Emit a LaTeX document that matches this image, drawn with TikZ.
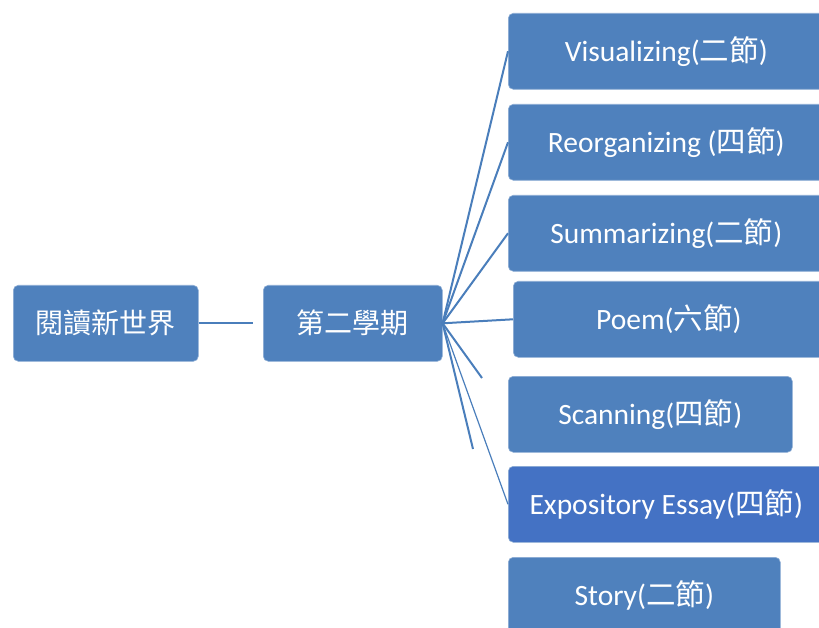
\documentclass[tikz,border=0pt]{standalone}
\usepackage{fontspec}
\setmainfont{Carlito}
\newfontfamily\cjk{Noto Sans CJK TC}
\usetikzlibrary{positioning}
\definecolor{boxblue}{HTML}{4F81BD}
\definecolor{boxdark}{HTML}{4472C4}
\definecolor{linkblue}{HTML}{4A7EBB}
\tikzset{
  topicbox/.style={rectangle, rounded corners=5pt, fill=boxblue, draw=white!35!boxblue, line width=0.6pt,
    text=white, anchor=north west, minimum height=76pt, inner sep=0pt, font=\fontsize{29.5}{33}\selectfont},
  rootbox/.style={topicbox, font=\cjk\fontsize{28}{32}\selectfont},
  link/.style={linkblue, line width=2pt},
}
\begin{document}
\begin{tikzpicture}[x=1pt,y=-1pt]
\useasboundingbox (0,0) rectangle (819,628);
\clip (0,0) rectangle (819,628);
% Root and term
\node[rootbox, minimum width=185pt] (book) at (13,285) {閱讀新世界};
\node[rootbox, minimum width=179pt] (term) at (263,285) {第二學期};

% Units
\node[topicbox, minimum width=316pt] (vis) at (508,13) {Visualizing({\cjk 二節})};
\node[topicbox, minimum width=316pt] (reo) at (508,104) {Reorganizing ({\cjk 四節})};
\node[topicbox, minimum width=316pt] (sum) at (508,195) {Summarizing({\cjk 二節})};
\node[topicbox, minimum width=311pt] (poem) at (513,281) {Poem({\cjk 六節})};
\node[topicbox, minimum width=284pt] (scan) at (508,376) {Scanning({\cjk 四節})};
\node[topicbox, minimum width=316pt, fill=boxdark] (expo) at (508,466) {Expository Essay({\cjk 四節})};
\node[topicbox, minimum width=272pt] (story) at (508,557) {Story({\cjk 二節})};

% Loose ends
\coordinate (scanend) at (482,378);
\coordinate (storyend) at (473,449);

% Links
\draw[link, shorten >=10pt] (book.east) -- (term.west);
\draw[link] (term.east) -- (vis.west);
\draw[link] (term.east) -- (reo.west);
\draw[link] (term.east) -- (sum.west);
\draw[link] (term.east) -- (poem.west);
\draw[link] (term.east) -- (scanend);
\draw[link] (term.east) -- (storyend);
\draw[link, line width=1.2pt] (term.east) -- (expo.west);

\end{tikzpicture}
\end{document}
